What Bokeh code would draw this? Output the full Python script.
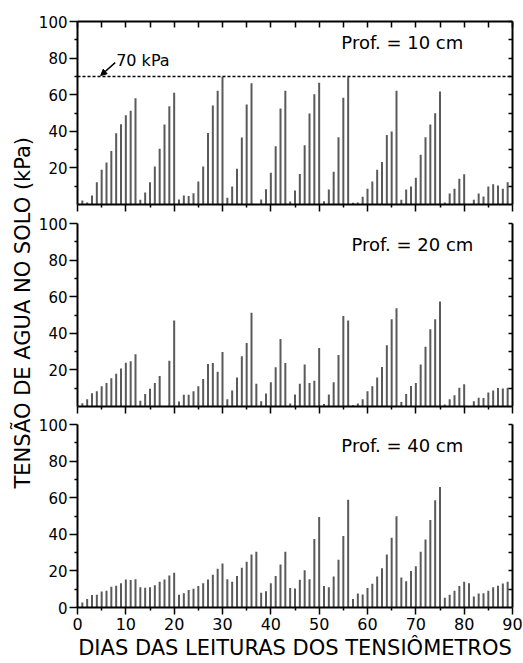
import math
from bokeh.plotting import figure
from bokeh.layouts import row, column
from bokeh.models import (Range1d, LinearAxis, FixedTicker, Span, Label, Arrow,
                          NormalHead, ColumnDataSource)
from bokeh.embed import file_html
from bokeh.resources import INLINE

NaN = float("nan")

# ---------------- data ----------------
days = list(range(1, 90))

tension_10cm = [2.2, 1.1, 4.9, 12.2, 19.0, 22.9, 29.3, 38.9, 43.9, 48.8, 51.2, 58.0,
                2.6, 6.6, 12.2, 20.8, 30.5, 43.7, 53.7, 61.0,
                2.7, 4.9, 4.6, 6.2, 12.6, 20.8, 39.1, 54.1, 62.2, 69.8,
                3.7, 9.9, 19.6, 36.6, 54.7, 66.2, NaN,
                2.7, 8.4, 17.4, 31.8, 52.5, 62.2, 1.6,
                7.7, 16.6, 32.4, 49.7, 60.3, 66.5,
                1.8, 8.2, 17.9, 36.7, 58.3, 69.5,
                0.9, 1.1, 4.2, 8.6, 12.6, 19.0, 23.2, 38.0, 39.9, 62.2,
                2.6, 8.2, 9.9, 14.6, 27.2, 36.7, 43.7, 49.9, 61.8,
                1.1, 6.0, 8.6, 14.1, 16.5, NaN,
                2.6, 6.0, 4.4, 9.9, 11.0, 10.4, 8.6, 12.2]

tension_20cm = [1.8, 4.0, 7.3, 8.4, 11.0, 12.8, 15.4, 17.9, 20.8, 23.9, 24.7, 28.5,
                3.1, 6.8, 9.7, 12.8, 16.6, NaN, 25.0, 47.0,
                2.7, 6.4, 6.4, 8.4, 11.0, 15.0, 23.2, 23.8, 19.0, 29.8,
                4.0, 8.8, 15.9, 27.4, 34.7, 51.2, 12.4,
                2.9, 7.1, 13.3, 21.4, 36.9, 23.8, 1.6,
                6.6, 12.4, 23.0, 12.8, 14.1, 32.0,
                1.3, 6.6, 13.3, 28.2, 49.5, 47.0,
                0.7, 1.6, 4.0, 8.4, 11.0, 15.9, 21.6, 33.5, 47.7, 53.7,
                2.4, 6.8, 11.2, 12.8, 22.9, 32.7, 42.2, 47.7, 57.4,
                1.1, 4.0, 6.2, 10.2, 12.2, NaN,
                2.9, 4.8, 4.6, 7.7, 8.8, 10.1, 9.9, 10.2]

tension_40cm = [2.7, 4.6, 6.8, 6.9, 8.8, 9.1, 11.3, 11.9, 13.3, 15.3, 15.0, 15.5,
                11.0, 10.8, 11.0, 12.2, 14.1, 15.3, 17.5, 19.0,
                6.9, 7.8, 9.5, 10.2, 11.7, 13.3, 15.3, 17.9, 21.2, 24.1,
                15.5, 14.1, 17.2, 21.7, 25.0, 29.0, 30.5,
                8.0, 8.9, 13.3, 17.2, 23.5, 30.5, 10.6,
                10.4, 15.1, 20.4, 15.5, 37.4, 49.5,
                11.7, 11.0, 17.0, 26.1, 39.1, 58.9,
                4.7, 7.7, 7.1, 10.6, 13.0, 17.0, 21.5, 29.0, 38.1, 49.8,
                16.4, 14.4, 19.9, 22.6, 30.5, 37.2, 47.8, 58.6, 65.9,
                5.3, 6.9, 9.1, 11.7, 14.1, 13.3,
                6.0, 7.7, 7.8, 9.1, 11.0, 11.9, 13.1, 14.1]

panel_labels = ["Prof. = 10 cm", "Prof. = 20 cm", "Prof. = 40 cm"]
threshold = 70
threshold_label = "70 kPa"
x_ticks = [0, 10, 20, 30, 40, 50, 60, 70, 80, 90]
x_minor = [5, 15, 25, 35, 45, 55, 65, 75, 85]
y_ticks_top = [20, 40, 60, 80, 100]
y_ticks_bottom = [0, 20, 40, 60, 80, 100]
y_minor = [10, 30, 50, 70, 90]
x_title = "DIAS DAS LEITURAS DOS TENSIÔMETROS"
y_title = "TENSÃO DE AGUA NO SOLO (kPa)"

FONT = "DejaVu Sans"
BAR_COLOR = "#5a5a5a"
TITLE_W = 35
PANEL_W = 523 - TITLE_W


def empty_axis(ax):
    ax.major_label_overrides = {t: "" for t in ax.ticker.ticks}
    ax.major_label_text_font_size = "1px"
    ax.major_label_standoff = 0


def make_panel(values, label, height, b_top, b_bottom, label_x, last, first):
    p = figure(width=PANEL_W, height=height, x_range=Range1d(0, 90), y_range=Range1d(0, 100),
               output_backend="svg", toolbar_location=None,
               x_axis_location=None, y_axis_location=None,
               min_border_left=40, min_border_right=11,
               min_border_top=b_top, min_border_bottom=b_bottom)
    p.outline_line_color = None
    p.grid.visible = False
    p.background_fill_color = "white"
    p.border_fill_color = "white"

    src = ColumnDataSource(dict(x=days, y0=[0] * len(days), y1=values))
    p.segment(x0="x", y0="y0", x1="x", y1="y1", source=src,
              line_color=BAR_COLOR, line_width=2)

    # left axis
    ly = LinearAxis(ticker=FixedTicker(ticks=(y_ticks_bottom if last else y_ticks_top),
                                       minor_ticks=y_minor))
    ly.axis_line_width = 2
    ly.major_tick_out = 8
    ly.major_tick_in = 0
    ly.minor_tick_out = 3
    ly.minor_tick_in = 0
    ly.major_tick_line_width = 1.5
    ly.minor_tick_line_width = 1.5
    ly.major_label_text_font = FONT
    ly.major_label_text_font_size = "15px"
    ly.major_label_text_color = "black"
    ly.major_label_standoff = 2
    p.add_layout(ly, "left")

    # right axis
    ry = LinearAxis(ticker=FixedTicker(ticks=[10, 20, 30, 40, 50, 60, 70, 80, 90, 100]))
    ry.axis_line_width = 2
    ry.major_tick_in = 4
    ry.major_tick_out = 0
    ry.major_tick_line_width = 1.5
    ry.minor_tick_line_color = None
    empty_axis(ry)
    p.add_layout(ry, "right")

    # bottom axis
    bx = LinearAxis(ticker=FixedTicker(ticks=x_ticks, minor_ticks=x_minor))
    bx.axis_line_width = 2
    bx.major_tick_out = 7
    bx.major_tick_in = 0
    bx.minor_tick_out = 3
    bx.minor_tick_in = 0
    bx.major_tick_line_width = 1.5
    bx.minor_tick_line_width = 1.5
    if last:
        bx.major_label_text_font = FONT
        bx.major_label_text_font_size = "16px"
        bx.major_label_text_color = "black"
        bx.major_label_standoff = 3
        bx.axis_label = x_title
        bx.axis_label_text_font = FONT
        bx.axis_label_text_font_size = "21px"
        bx.axis_label_text_font_style = "normal"
        bx.axis_label_text_color = "black"
        bx.axis_label_standoff = 3
    else:
        empty_axis(bx)
    p.add_layout(bx, "below")

    if first:
        tx = LinearAxis(ticker=FixedTicker(ticks=[0, 5, 10, 15, 20, 25, 30, 35, 40, 45,
                                                  50, 55, 60, 65, 70, 75, 80, 85, 90]))
        tx.axis_line_width = 2
        tx.major_tick_in = 6
        tx.major_tick_out = 0
        tx.major_tick_line_width = 1.5
        tx.minor_tick_line_color = None
        empty_axis(tx)
        p.add_layout(tx, "above")

    p.add_layout(Label(x=label_x, y=88.5, text=label, text_font=FONT,
                       text_font_size="18px", text_align="center",
                       text_baseline="middle", text_color="black"))
    return p


p1 = make_panel(tension_10cm, panel_labels[0], 213, 21, 9, 67.2, False, True)
p2 = make_panel(tension_20cm, panel_labels[1], 201, 10, 8, 69.3, False, False)
p3 = make_panel(tension_40cm, panel_labels[2], 249, 10, 56, 67.2, True, False)

# threshold line and annotation on the 10 cm panel
p1.add_layout(Span(location=threshold, dimension="width", line_color="black",
                   line_width=1.5, line_dash="3 2"))
p1.add_layout(Arrow(end=NormalHead(size=6, fill_color="black", line_color="black"),
                    x_start=7.8, y_start=77.5, x_end=4.8, y_end=70.5,
                    line_color="black", line_width=1.5))
p1.add_layout(Label(x=8.0, y=78.5, text=threshold_label, text_font=FONT,
                    text_font_size="16px", text_align="left",
                    text_baseline="middle", text_color="black"))

# y title in its own narrow figure
tf = figure(width=TITLE_W, height=663, x_range=Range1d(0, 1), y_range=Range1d(0, 1),
            output_backend="svg", toolbar_location=None,
            x_axis_location=None, y_axis_location=None,
            min_border_left=0, min_border_right=0, min_border_top=0, min_border_bottom=0)
tf.outline_line_color = None
tf.grid.visible = False
tf.add_layout(Label(x=0.63, y=0.529, text=y_title, text_font=FONT,
                    text_font_size="21px", angle=math.pi / 2, text_align="center",
                    text_baseline="middle", text_color="black"))

layout = row(tf, column(p1, p2, p3, spacing=0), spacing=0)

open("out.html", "w").write(file_html(layout, INLINE))
